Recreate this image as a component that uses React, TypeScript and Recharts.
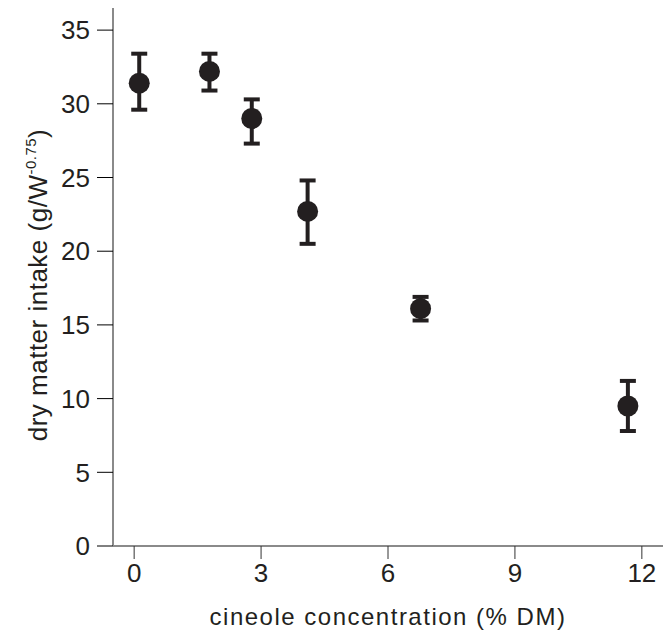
import { ScatterChart, Scatter, XAxis, YAxis, ErrorBar } from "recharts";

// cineole concentration (% DM)
const cineole = [0.12, 1.78, 2.78, 4.1, 6.77, 11.67];
// dry matter intake means and error bar ends
const intake = [31.4, 32.2, 29.0, 22.7, 16.1, 9.5];
const upper = [33.4, 33.4, 30.3, 24.8, 16.9, 11.2];
const lower = [29.6, 30.9, 27.3, 20.5, 15.3, 7.8];

const xTicks = [0, 3, 6, 9, 12];
const yTicks = [0, 5, 10, 15, 20, 25, 30, 35];

const INK = "#231f20";
const FONT = "'Liberation Sans', Arial, sans-serif";

const data = cineole.map((x, i) => ({
  x,
  y: intake[i],
  err: [intake[i] - lower[i], upper[i] - intake[i]],
}));

function YLabel() {
  return (
    <text
      x={0}
      y={0}
      transform="translate(47, 285) rotate(-90)"
      textAnchor="middle"
      fontFamily={FONT}
      fontSize={26}
      letterSpacing={0.5}
      fill={INK}
    >
      dry matter intake (g/W
      <tspan dy={-11} fontSize={15}>-0.75</tspan>
      <tspan dy={11}>)</tspan>
    </text>
  );
}

export default function App() {
  return (
    <div style={{ position: "absolute", left: 0, top: 0, background: "#fff" }}>
      <ScatterChart width={663} height={634} margin={{ top: 8, right: 0, bottom: 0, left: 0 }}>
        <XAxis
          type="number"
          dataKey="x"
          domain={[-0.5, 12.5]}
          ticks={xTicks}
          height={88}
          stroke="#8a8a8a"
          strokeWidth={2}
          tickSize={13}
          tickLine={{ stroke: "#333", strokeWidth: 1 }}
          tick={{ fontSize: 26, fill: INK, fontFamily: FONT }}
          tickMargin={5}
          label={{
            value: "cineole concentration (% DM)",
            position: "insideBottom",
            offset: 9,
            fontSize: 24,
            letterSpacing: 1.5,
            fill: INK,
            fontFamily: FONT,
          }}
        />
        <YAxis
          type="number"
          dataKey="y"
          domain={[0, 36.5]}
          ticks={yTicks}
          width={113}
          stroke="#8a8a8a"
          strokeWidth={2}
          tickSize={16}
          tickLine={{ stroke: "#000", strokeWidth: 1 }}
          tick={{ fontSize: 26, fill: INK, fontFamily: FONT }}
          tickMargin={7}
          label={{ content: () => <YLabel /> }}
        />
        <Scatter
          data={data}
          isAnimationActive={false}
          fill={INK}
          shape={(p: any) => <circle cx={p.cx} cy={p.cy} r={10.5} fill={INK} />}
        >
          <ErrorBar dataKey="err" direction="y" width={8} stroke={INK} strokeWidth={4} />
        </Scatter>
      </ScatterChart>
    </div>
  );
}
